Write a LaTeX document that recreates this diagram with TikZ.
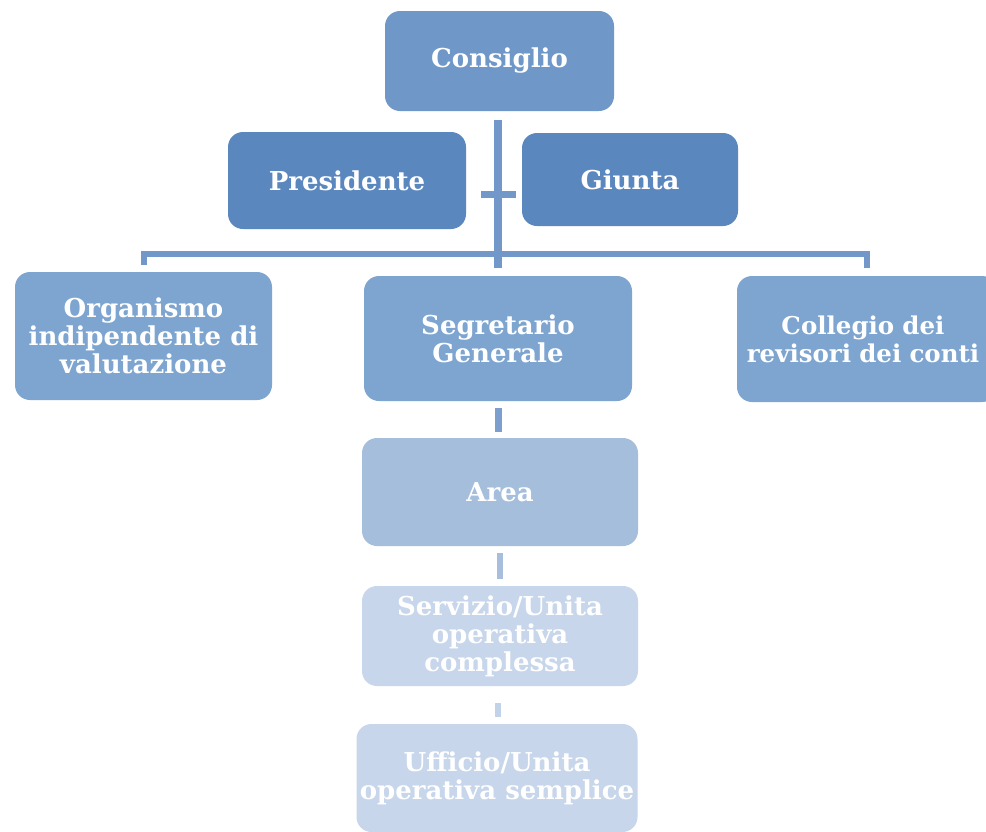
\documentclass[tikz,border=0pt]{standalone}
\usepackage{fontspec}
\setmainfont{DejaVu Serif}
\usetikzlibrary{calc}
\definecolor{cTop}{HTML}{6F97C8}
\definecolor{cDark}{HTML}{5B87BF}
\definecolor{cMid}{HTML}{7EA5D0}
\definecolor{cArea}{HTML}{A4BEDC}
\definecolor{cLight}{HTML}{C7D6EA}
\definecolor{cConn}{HTML}{7297C9}
\definecolor{cConnA}{HTML}{A7BEDD}
\definecolor{cConnB}{HTML}{C2D2E8}
\tikzset{
  box/.style={rectangle, rounded corners=15pt, draw=none, inner sep=0pt,
    align=center, text=white,
    font=\fontsize{26}{28}\selectfont\bfseries},
  conn/.style={line width=6pt, draw=cConn},
}
\begin{document}
\begin{tikzpicture}[x=1pt,y=-1pt]
\clip (0,0) rectangle (986,831);
\fill[white] (0,0) rectangle (986,831);
% nodes
\node[box, fill=cTop, minimum width=229pt, minimum height=100pt] (consiglio) at (499.5,61) {Consiglio};
\node[box, fill=cDark, minimum width=238pt, minimum height=97pt] (presidente) at (347,180.5) {Presidente};
\node[box, fill=cDark, minimum width=216pt, minimum height=93pt] (giunta) at (630,179.5) {Giunta};
\node[box, fill=cMid, minimum width=257pt, minimum height=128pt] (oiv) at (143.5,336) {Organismo\\indipendente di\\valutazione};
\node[box, fill=cMid, minimum width=268pt, minimum height=125pt] (segretario) at (498,338.5) {Segretario\\Generale};
\node[box, fill=cMid, minimum width=260pt, minimum height=126pt, text width=240pt, font=\fontsize{24.5}{28}\selectfont\bfseries] (collegio) at (867,339) {\hspace*{-8pt}Collegio dei\\\hspace*{-8pt}revisori dei conti};
\node[box, fill=cArea, minimum width=276pt, minimum height=108pt] (area) at (500,492) {Area};
\node[box, fill=cLight, minimum width=276pt, minimum height=100pt] (servizio) at (500,636) {Servizio/Unita\\operativa\\complessa};
\node[box, fill=cLight, minimum width=281pt, minimum height=108pt] (ufficio) at (497,778) {Ufficio/Unita\\operativa semplice};
% connectors
\draw[conn, line width=8pt] ([yshift=-9pt]consiglio.south -| segretario.north) -- ([yshift=8pt]segretario.north);
\coordinate (tickL) at (481,194);
\coordinate (tickR) at (516,194);
\draw[conn, line width=7pt] (tickL) -- (tickR);
\coordinate (bar) at (500,254);
\draw[conn] ([yshift=7pt]oiv.north) |- (bar) -| ([yshift=8pt]collegio.north);
\draw[line width=7pt, draw=cConn!80!cArea, dash pattern=on 24pt off 6pt on 3pt off 10pt] ([yshift=-7pt]segretario.south) -- (segretario.south |- area.north);
\draw[line width=6pt, draw=cConnA] ([yshift=-7pt]area.south) -- ([yshift=7pt]servizio.north);
\draw[line width=6pt, draw=cConnB] ([yshift=-17pt,xshift=-2pt]servizio.south) -- ([yshift=7pt,xshift=1pt]ufficio.north);
\end{tikzpicture}
\end{document}
